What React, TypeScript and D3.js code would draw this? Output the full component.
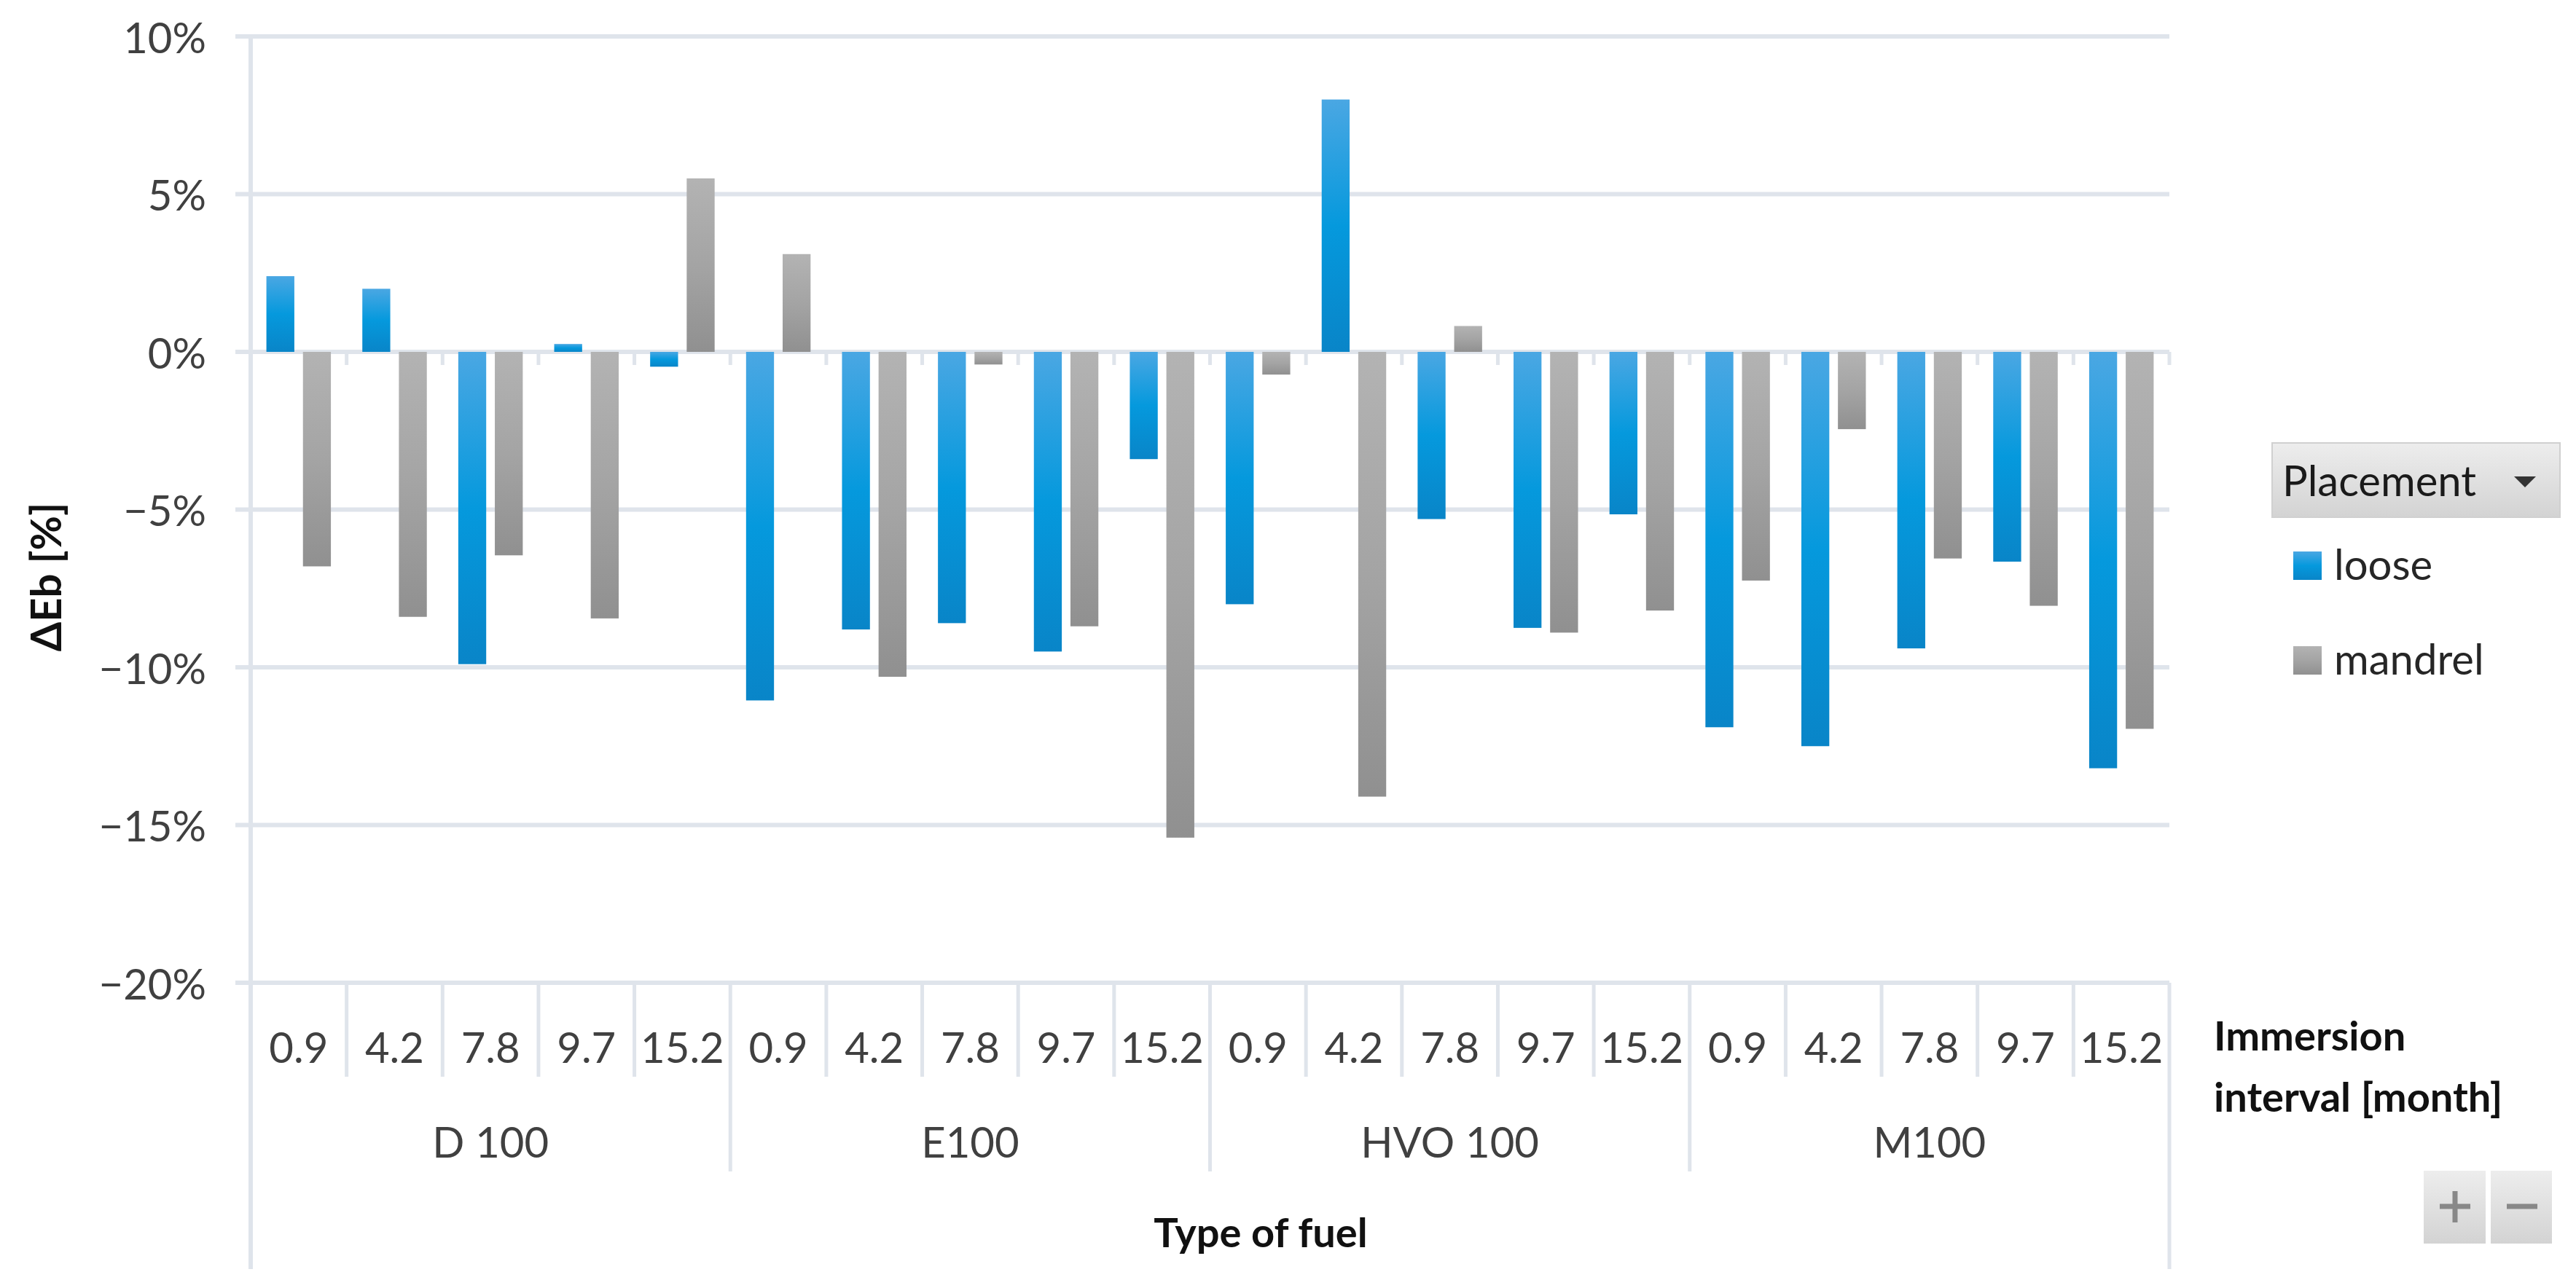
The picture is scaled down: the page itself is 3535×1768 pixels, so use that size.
import React from "react";
import * as d3 from "d3";

// fuels and immersion intervals (months)
const fuels = ["D 100", "E100", "HVO 100", "M100"];
const intervals = ["0.9", "4.2", "7.8", "9.7", "15.2"];
const seriesNames = ["loose", "mandrel"];

// ΔEb [%], in order fuel x interval
const loose = [2.4, 2.0, -9.9, 0.25, -0.47, -11.05, -8.8, -8.6, -9.5, -3.4, -8.0, 8.0, -5.3, -8.75, -5.15, -11.9, -12.5, -9.4, -6.65, -13.2];
const mandrel = [-6.8, -8.4, -6.45, -8.45, 5.5, 3.1, -10.3, -0.4, -8.7, -15.4, -0.72, -14.1, 0.82, -8.9, -8.2, -7.25, -2.45, -6.55, -8.05, -11.95];

const yTicks = [10, 5, 0, -5, -10, -15, -20];

const W = 3535;
const H = 1768;
const FONT = "Lato, 'Open Sans', sans-serif";
const GRID = "#dfe4eb";

export default function App() {
  const keys = d3.cross(fuels, intervals).map(([f, i]) => f + "|" + i);
  const x = d3.scaleBand().domain(keys).range([344, 2977]);
  const inner = d3
    .scaleBand()
    .domain(seriesNames)
    .range([0, x.step()])
    .paddingInner(0.236)
    .paddingOuter(0.43);
  const y = d3.scaleLinear().domain([-20, 10]).range([1349, 50]);
  const step = x.step();
  const vals: Record<string, number[]> = { loose, mandrel };
  const fmt = (v: number) => (v < 0 ? "\u2212" + Math.abs(v) : String(v)) + "%";

  return (
    <svg
      width={W}
      height={H}
      style={{ position: "absolute", left: 0, top: 0, background: "#fff" }}
      fontFamily={FONT}
    >
      <defs>
        <linearGradient id="gBlue" x1="0" y1="0" x2="0" y2="1">
          <stop offset="0" stopColor="#4aa7e3" />
          <stop offset="0.5" stopColor="#0599dd" />
          <stop offset="1" stopColor="#0985c8" />
        </linearGradient>
        <linearGradient id="gGray" x1="0" y1="0" x2="0" y2="1">
          <stop offset="0" stopColor="#b3b3b3" />
          <stop offset="0.5" stopColor="#a4a4a4" />
          <stop offset="1" stopColor="#909090" />
        </linearGradient>
        <linearGradient id="gBox" x1="0" y1="0" x2="0" y2="1">
          <stop offset="0" stopColor="#ededed" />
          <stop offset="1" stopColor="#d3d3d3" />
        </linearGradient>
      </defs>

      {/* gridlines */}
      {yTicks.map((t) => (
        <line key={t} x1={323} x2={2977} y1={y(t)} y2={y(t)} stroke={GRID} strokeWidth={6} />
      ))}
      {/* ticks on the zero line */}
      {keys.map((k, i) => (
        <line key={k} x1={x(k)! + step} x2={x(k)! + step} y1={y(0)} y2={y(0) + 18} stroke={GRID} strokeWidth={5} />
      ))}
      {/* axis frame */}
      <line x1={344} x2={344} y1={y(10) - 3} y2={1742} stroke={GRID} strokeWidth={6} />
      <line x1={2977} x2={2977} y1={y(-20)} y2={1742} stroke={GRID} strokeWidth={5} />
      {keys.map((k, i) =>
        i === 0 ? null : (
          <line
            key={"s" + k}
            x1={x(k)!}
            x2={x(k)!}
            y1={y(-20)}
            y2={i % intervals.length === 0 ? 1608 : 1478}
            stroke={GRID}
            strokeWidth={5}
          />
        )
      )}

      {/* bars */}
      {seriesNames.map((s) =>
        keys.map((k, i) => {
          const v = vals[s][i];
          return (
            <rect
              key={s + k}
              x={x(k)! + inner(s)!}
              width={inner.bandwidth()}
              y={y(Math.max(0, v))}
              height={Math.abs(y(v) - y(0))}
              fill={s === "loose" ? "url(#gBlue)" : "url(#gGray)"}
            />
          );
        })
      )}

      {/* y tick labels */}
      {yTicks.map((t) => (
        <text key={"l" + t} x={283} y={y(t)} textAnchor="end" dominantBaseline="central" fontSize={58} fill="#404040">
          {fmt(t)}
        </text>
      ))}

      {/* category labels */}
      {keys.map((k) => (
        <text key={"c" + k} x={x(k)! + step / 2} y={1436} textAnchor="middle" dominantBaseline="central" fontSize={58} fill="#404040">
          {k.split("|")[1]}
        </text>
      ))}
      {fuels.map((f) => (
        <text
          key={f}
          x={x(f + "|" + intervals[0])! + (step * intervals.length) / 2}
          y={1566}
          textAnchor="middle"
          dominantBaseline="central"
          fontSize={58}
          fill="#404040"
        >
          {f}
        </text>
      ))}

      {/* axis titles */}
      <text x={1730} y={1690} textAnchor="middle" dominantBaseline="central" fontSize={56} fontWeight="bold" fill="#111">
        Type of fuel
      </text>
      <text
        transform={`translate(61,792) rotate(-90)`}
        textAnchor="middle"
        dominantBaseline="central"
        fontSize={58}
        fontWeight="bold"
        fill="#111"
      >
        ΔEb [%]
      </text>
      <text x={3038} y={1442} fontSize={56} fontWeight="bold" fill="#111">
        Immersion
      </text>
      <text x={3038} y={1526} fontSize={56} fontWeight="bold" fill="#111">
        interval [month]
      </text>

      {/* legend (pivot field button) */}
      <rect x={3118} y={608} width={395} height={102} fill="url(#gBox)" stroke="#d0d0d0" strokeWidth={2} />
      <text x={3132} y={681} fontSize={58} fill="#1a1a1a">
        Placement
      </text>
      <path d="M3450,654 L3480,654 L3465,669 Z" fill="#333" />
      {seriesNames.map((s, i) => (
        <g key={"lg" + s} transform={`translate(3147,${757 + i * 130})`}>
          <rect width={39} height={39} fill={s === "loose" ? "url(#gBlue)" : "url(#gGray)"} />
          <text x={56} y={39} fontSize={58} fill="#262626">
            {s}
          </text>
        </g>
      ))}

      {/* +/- buttons */}
      <rect x={3326} y={1607} width={85} height={100} fill="url(#gBox)" />
      <rect x={3418} y={1607} width={84} height={100} fill="url(#gBox)" />
      <line x1={3348} x2={3390} y1={1656} y2={1656} stroke="#888" strokeWidth={7} />
      <line x1={3369} x2={3369} y1={1635} y2={1678} stroke="#888" strokeWidth={7} />
      <line x1={3440} x2={3482} y1={1656} y2={1656} stroke="#888" strokeWidth={7} />
    </svg>
  );
}
